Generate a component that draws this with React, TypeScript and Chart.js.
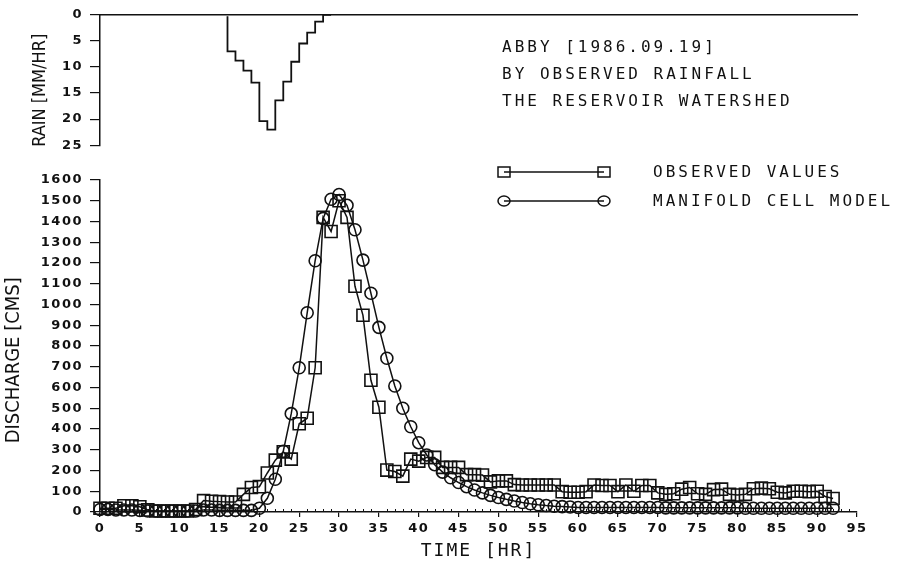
import React, { useEffect, useRef } from 'react';
import { Chart, registerables } from 'chart.js';

Chart.register(...registerables);

// ---------- DATA ----------
const rainHours = [16, 17, 18, 19, 20, 21, 22, 23, 24, 25, 26, 27, 28, 29];
const rainRate = [0.3, 7.0, 8.8, 10.7, 13.0, 20.4, 22.0, 16.4, 12.8, 9.0, 5.5, 3.4, 1.3, 0];

const flowHours = [
  0, 1, 2, 3, 4, 5, 6, 7, 8, 9, 10, 11, 12, 13, 14, 15, 16, 17, 18, 19,
  20, 21, 22, 23, 24, 25, 26, 27, 28, 29, 30, 31, 32, 33, 34, 35, 36, 37, 38, 39,
  40, 41, 42, 43, 44, 45, 46, 47, 48, 49, 50, 51, 52, 53, 54, 55, 56, 57, 58, 59,
  60, 61, 62, 63, 64, 65, 66, 67, 68, 69, 70, 71, 72, 73, 74, 75, 76, 77, 78, 79,
  80, 81, 82, 83, 84, 85, 86, 87, 88, 89, 90, 91, 92,
];

const observedValues = [
  18, 18, 18, 30, 30, 25, 10, 5, 5, 5, 5, 5, 12, 55, 52, 50, 48, 48, 85, 118,
  122, 188, 250, 290, 255, 425, 452, 695, 1420, 1352, 1500, 1420, 1088, 948, 635, 505, 202, 195, 173, 255,
  245, 263, 263, 215, 215, 215, 180, 180, 178, 145, 150, 150, 132, 130, 130, 130, 130, 130, 98, 95,
  95, 98, 130, 128, 128, 98, 130, 100, 128, 128, 92, 85, 88, 110, 118, 88, 85, 108, 110, 85,
  82, 85, 112, 115, 112, 95, 92, 100, 100, 98, 100, 75, 65,
];

const modelValues = [
  12, 12, 10, 10, 10, 8, 5, 5, 5, 5, 5, 5, 5, 10, 10, 8, 8, 8, 8, 8,
  18, 66, 158, 293, 474, 695, 960, 1211, 1415, 1507, 1530, 1478, 1360, 1214, 1054, 890, 741, 607, 500, 411,
  334, 275, 228, 192, 165, 142, 122, 106, 92, 80, 70, 61, 53, 46, 40, 35, 31, 28, 26, 24,
  22, 22, 22, 22, 22, 22, 22, 22, 22, 22, 22, 20, 20, 20, 20, 20, 20, 20, 20, 20,
  20, 18, 18, 18, 18, 18, 18, 18, 18, 18, 18, 18, 18,
];

const seriesNames = ['OBSERVED VALUES', 'MANIFOLD CELL MODEL'];
const noteLines = ['ABBY [1986.09.19]', 'BY OBSERVED RAINFALL', 'THE RESERVOIR WATERSHED'];

// ---------- STYLE ----------
const INK = '#111111';
const tickFont = { family: "'DejaVu Sans', sans-serif", weight: 'bold' as const, size: 13 };
const narrowFont = "'Liberation Sans Narrow', 'DejaVu Sans Condensed', 'Roboto Condensed', sans-serif";
const monoFont = "'DejaVu Sans Mono', monospace";
const plainTick = (v: any) => String(v);

// widen tick labels / x title a little, like the plotter lettering
const spacedText = {
  id: 'spacedText',
  beforeDraw(chart: any) {
    const ctx = chart.ctx;
    Object.values(chart.scales).forEach((scale: any) => {
      if (scale.__spaced) return;
      scale.__spaced = true;
      const origLabels = scale.drawLabels.bind(scale);
      scale.drawLabels = (area: any) => {
        ctx.save();
        ctx.letterSpacing = '1.5px';
        origLabels(area);
        ctx.restore();
      };
      if (scale.axis === 'x') {
        const origTitle = scale.drawTitle.bind(scale);
        scale.drawTitle = (area: any) => {
          ctx.save();
          ctx.letterSpacing = '2px';
          origTitle(area);
          ctx.restore();
        };
      }
    });
  },
};

const minorTicks = {
  id: 'minorTicks',
  afterDraw(chart: any) {
    const xs = chart.scales.x;
    const ctx = chart.ctx;
    const y0 = chart.chartArea.bottom;
    ctx.save();
    ctx.strokeStyle = INK;
    ctx.lineWidth = 1;
    ctx.beginPath();
    for (let h = Math.ceil(xs.min); h <= xs.max; h++) {
      if (h % 5 === 0) continue;
      const px = Math.round(xs.getPixelForValue(h)) + 0.5;
      ctx.moveTo(px, y0);
      ctx.lineTo(px, y0 - 3);
    }
    ctx.stroke();
    ctx.restore();
  },
};

const legendMarks = {
  id: 'legendMarks',
  afterDraw(chart: any) {
    const ctx = chart.ctx;
    ctx.save();
    ctx.strokeStyle = INK;
    ctx.lineWidth = 1.5;
    const x1 = 504;
    const x2 = 604;
    const rows = [172, 201];
    rows.forEach((y, i) => {
      ctx.beginPath();
      ctx.moveTo(x1, y);
      ctx.lineTo(x2, y);
      ctx.stroke();
      [x1, x2].forEach((x) => {
        ctx.beginPath();
        if (i === 0) ctx.rect(x - 6, y - 5, 12, 10);
        else ctx.ellipse(x, y, 6, 5, 0, 0, Math.PI * 2);
        ctx.stroke();
      });
    });
    ctx.restore();
  },
};

export default function App() {
  const rainRef = useRef<HTMLCanvasElement>(null);
  const flowRef = useRef<HTMLCanvasElement>(null);

  useEffect(() => {
    const rainChart = new Chart(rainRef.current!, {
      type: 'line',
      data: {
        datasets: [
          {
            label: 'RAIN',
            data: rainHours.map((h, i) => ({ x: h, y: rainRate[i] })),
            stepped: 'after',
            borderColor: INK,
            borderWidth: 1.8,
            pointRadius: 0,
            fill: false,
          },
        ],
      },
      options: {
        responsive: false,
        animation: false,
        layout: { padding: { top: 14, bottom: 12, left: 0, right: 41 } },
        plugins: { legend: { display: false }, tooltip: { enabled: false } },
        scales: {
          x: {
            type: 'linear',
            position: 'top',
            min: 0,
            max: 95,
            ticks: { display: false },
            grid: { display: false, drawTicks: false },
            border: { display: true, color: INK, width: 1.5 },
          },
          y: {
            reverse: true,
            min: 0,
            max: 25,
            ticks: { stepSize: 5, color: INK, font: tickFont, padding: 7, callback: plainTick },
            grid: { display: true, drawOnChartArea: false, drawTicks: true, tickLength: 10, color: INK, lineWidth: 1.2 },
            border: { display: true, color: INK, width: 1.5 },
            title: {
              display: true,
              text: 'RAIN [MM/HR]\u00a0\u00a0\u00a0\u00a0',
              color: INK,
              font: { family: narrowFont, size: 18 },
              padding: { top: 30, bottom: 0 },
            },
            afterFit(s: any) {
              s.width = 100;
            },
          },
        },
      },
      plugins: [spacedText],
    } as any);

    const flowChart = new Chart(flowRef.current!, {
      type: 'line',
      data: {
        datasets: [
          {
            label: seriesNames[0],
            data: flowHours.map((h, i) => ({ x: h, y: observedValues[i] })),
            borderColor: INK,
            borderWidth: 1.5,
            pointStyle: 'rect',
            pointRadius: 8.5,
            pointBorderWidth: 1.6,
            pointBorderColor: INK,
            pointBackgroundColor: 'rgba(0,0,0,0)',
            tension: 0,
            clip: false,
          },
          {
            label: seriesNames[1],
            data: flowHours.map((h, i) => ({ x: h, y: modelValues[i] })),
            borderColor: INK,
            borderWidth: 1.5,
            pointStyle: 'circle',
            pointRadius: 6,
            pointBorderWidth: 1.6,
            pointBorderColor: INK,
            pointBackgroundColor: 'rgba(0,0,0,0)',
            tension: 0,
            clip: false,
          },
        ],
      },
      options: {
        responsive: false,
        animation: false,
        layout: { padding: { top: 180, bottom: 0, left: 0, right: 41 } },
        plugins: { legend: { display: false }, tooltip: { enabled: false } },
        scales: {
          x: {
            type: 'linear',
            min: 0,
            max: 95,
            ticks: { stepSize: 5, color: INK, font: tickFont, padding: 4, maxRotation: 0, autoSkip: false, callback: plainTick },
            grid: { display: true, drawOnChartArea: false, drawTicks: true, tickLength: 5, color: INK, lineWidth: 1.2 },
            border: { display: true, color: INK, width: 1.5 },
            title: {
              display: true,
              text: 'TIME [HR]',
              color: INK,
              font: { family: monoFont, size: 18 },
              padding: { top: 0, bottom: 1 },
            },
            afterFit(s: any) {
              s.height = 51;
            },
          },
          y: {
            min: 0,
            max: 1600,
            ticks: { stepSize: 100, color: INK, font: tickFont, padding: 7, callback: plainTick },
            grid: { display: true, drawOnChartArea: false, drawTicks: true, tickLength: 10, color: INK, lineWidth: 1.2 },
            border: { display: true, color: INK, width: 1.5 },
            title: {
              display: true,
              text: 'DISCHARGE [CMS]\u00a0\u00a0\u00a0\u00a0\u00a0',
              color: INK,
              font: { family: narrowFont, size: 20 },
              padding: { top: 2, bottom: 0 },
            },
            afterFit(s: any) {
              s.width = 100;
            },
          },
        },
      },
      plugins: [spacedText, minorTicks, legendMarks],
    } as any);

    return () => {
      rainChart.destroy();
      flowChart.destroy();
    };
  }, []);

  const textStyle = (left: number, centerY: number): React.CSSProperties => ({
    position: 'absolute',
    left,
    top: centerY - 9,
    height: 18,
    lineHeight: '18px',
    fontFamily: monoFont,
    fontSize: 16,
    letterSpacing: '3px',
    color: INK,
    whiteSpace: 'nowrap',
  });

  return (
    <div style={{ position: 'absolute', left: 0, top: 0, width: 898, height: 563, background: '#fff', overflow: 'hidden' }}>
      <canvas ref={flowRef} width={898} height={563} style={{ position: 'absolute', left: 0, top: 0, width: 898, height: 563 }} />
      <canvas ref={rainRef} width={898} height={160} style={{ position: 'absolute', left: 0, top: 0, width: 898, height: 160 }} />
      <div style={textStyle(502, 47)}>{noteLines[0]}</div>
      <div style={textStyle(502, 74)}>{noteLines[1]}</div>
      <div style={textStyle(502, 101)}>{noteLines[2]}</div>
      <div style={textStyle(653, 172)}>{seriesNames[0]}</div>
      <div style={textStyle(653, 201)}>{seriesNames[1]}</div>
    </div>
  );
}
